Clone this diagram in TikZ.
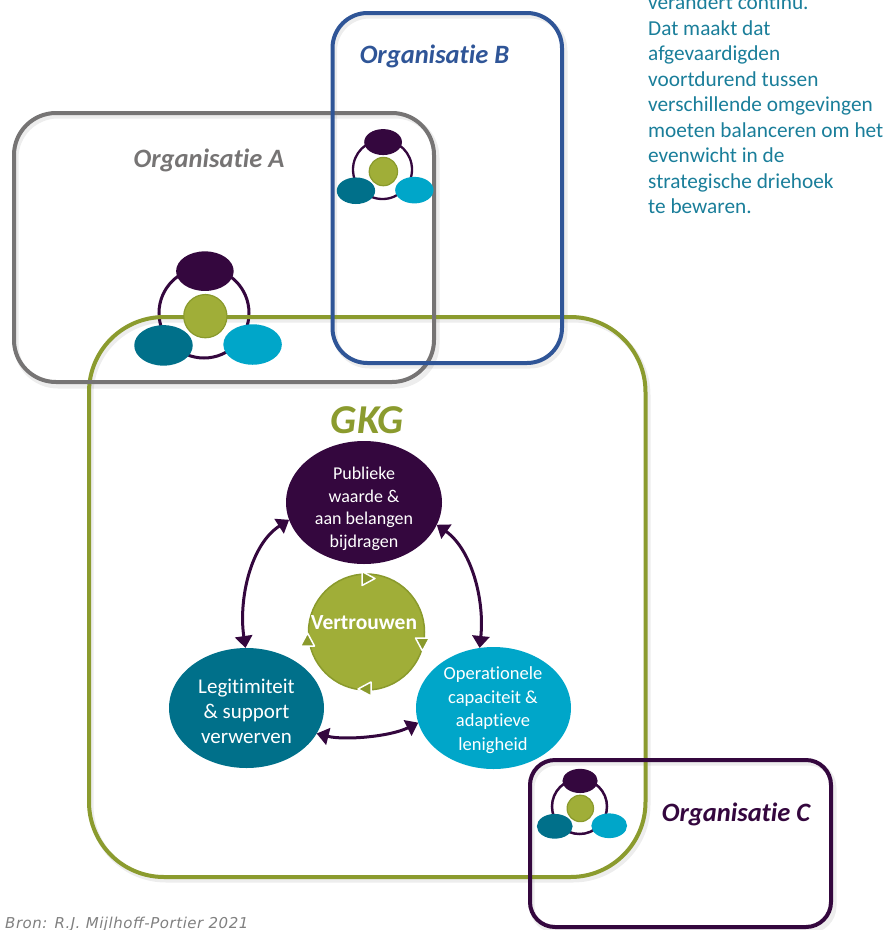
\documentclass[tikz,border=0pt]{standalone}
\usepackage{fontspec}
\setmainfont{Carlito}[Ligatures={NoCommon}]
\newfontfamily\bronfont{DejaVu Sans}[LetterSpace=3.5]
\usetikzlibrary{arrows.meta,shapes.geometric,calc}

\definecolor{purp}{HTML}{34073E}
\definecolor{tealc}{HTML}{00708A}
\definecolor{cyanc}{HTML}{00A6C9}
\definecolor{olive}{HTML}{A0AE38}
\definecolor{oliveedge}{HTML}{8A9A2C}
\definecolor{gkggreen}{HTML}{8B9B2E}
\definecolor{orggray}{HTML}{767474}
\definecolor{orgblue}{HTML}{2F5597}
\definecolor{notecol}{HTML}{1A7E9A}
\definecolor{broncol}{HTML}{808080}

\tikzset{
  box/.style={draw, rectangle, line width=4pt, inner sep=0pt, outer sep=0pt},
  shadowln/.style={draw=black, line width=5pt, opacity=0.07},
  ring/.style={draw=purp},
  blob/.style={ellipse, inner sep=0pt, outer sep=0pt},
  link/.style={draw=purp, line width=3pt,
    arrows={Triangle[length=12pt,width=17pt]-Triangle[length=12pt,width=17pt]}},
  cyclehead/.style={fill=oliveedge, draw=white, line width=1.5pt, line join=round},
  orglabel/.style={font=\fontsize{26.5}{30}\selectfont\bfseries\itshape, anchor=base, inner sep=0pt},
  note/.style={font=\fontsize{21.3}{25}\selectfont, text=notecol, anchor=base west, inner sep=0pt},
  intxt/.style={text=white, anchor=base, inner sep=0pt},
  pics/triadfill/.style={code={
    \fill[purp] (0.02,-0.93) ellipse[x radius=0.64, y radius=0.44];
    \filldraw[fill=olive, draw=oliveedge, line width=1.2pt] (0.03,0.07) circle[radius=0.48];
    \fill[tealc] (-0.9,0.72) ellipse[x radius=0.65, y radius=0.45];
    \fill[cyanc] (1.08,0.7) ellipse[x radius=0.65, y radius=0.45];
  }}
}

\begin{document}
\begin{tikzpicture}[x=1pt,y=-1pt]
\useasboundingbox (0,0) rectangle (889,930);

% soft shadows under the organisation frames
\draw[shadowln, rounded corners=42pt] (16,116) rectangle (437,386);
\draw[shadowln, rounded corners=35pt] (334.5,16) rectangle (565,366);
\draw[shadowln, rounded corners=75pt] (91,320) rectangle (648,880);
\draw[shadowln, rounded corners=25pt] (532,763) rectangle (834,931);

% rings of the small triads (lie beneath the frames)
\draw[ring, line width=3pt] (204,313) circle[radius=45];
\draw[ring, line width=2.3pt] (382.5,169.5) circle[radius=29.5];
\draw[ring, line width=2.5pt] (579.5,806.5) circle[radius=27.5];

% frames
\node[box, draw=gkggreen, rounded corners=75pt, minimum width=556.5pt, minimum height=560pt] (gkg) at (367.25,597) {};
\node[box, draw=orggray, rounded corners=42pt, minimum width=420pt, minimum height=269pt] (orgA) at (224,247.5) {};
\node[box, draw=orgblue, rounded corners=35pt, minimum width=229.5pt, minimum height=350pt] (orgB) at (447.25,188) {};
\node[box, draw=purp, rounded corners=25pt, minimum width=301pt, minimum height=167pt] (orgC) at (680.5,843.5) {};

% small triads
\pic[scale=45] at (204,313) {triadfill};
\pic[scale=29.5] at (382.5,169.5) {triadfill};
\pic[scale=27.5] at (579.5,806.5) {triadfill};

% frame labels
\node[orglabel, text=orggray] (labA) at (209,167) {Organisatie A};
\node[orglabel, text=orgblue] (labB) at (434.5,63) {Organisatie B};
\node[orglabel, text=purp] (labC) at (736,821) {Organisatie C};
\node[orglabel, text=gkggreen, font=\fontsize{41}{48}\selectfont\bfseries\itshape] (labG) at (367.5,433) {GKG};

% strategic triangle
\node[blob, fill=purp, minimum width=156pt, minimum height=123pt] (pub) at (364,502.5) {};
\node[blob, fill=tealc, minimum width=155pt, minimum height=120pt] (leg) at (246.5,708) {};
\node[blob, fill=cyanc, minimum width=155pt, minimum height=122pt] (ops) at (493.5,708) {};
\node[circle, fill=olive, draw=oliveedge, line width=1.5pt, inner sep=0pt, minimum size=116pt] (trust) at (366.5,632) {};

\foreach \t [count=\k from 0] in {Publieke, waarde \&, aan belangen, bijdragen}
  \node[intxt, font=\fontsize{18}{22}\selectfont] (pubt\k) at (364,{479.5+22.7*\k}) {\t};
\foreach \t [count=\k from 0] in {Legitimiteit, \& support, verwerven}
  \node[intxt, font=\fontsize{21}{25}\selectfont] (legt\k) at (246.5,{693.3+25*\k}) {\t};
\foreach \t [count=\k from 0] in {Operationele, capaciteit \&, adaptieve, lenigheid}
  \node[intxt, font=\fontsize{18.5}{23}\selectfont] (opst\k) at (493,{679.3+23.7*\k}) {\t};
\node[intxt, font=\fontsize{21.5}{25}\selectfont\bfseries] (trustt) at (364,629) {Vertrouwen};

% cycle arrowheads around the trust circle
\filldraw[cyclehead] (375,578.5) -- (362,571.5) -- (362,585.5) -- cycle;
\filldraw[cyclehead] (422.5,651) -- (415.5,638) -- (429.5,638) -- cycle;
\filldraw[cyclehead] (358,689) -- (371,682) -- (371,696) -- cycle;
\filldraw[cyclehead] (307.5,633) -- (300.5,646) -- (314.5,646) -- cycle;

% mutual relations
\draw[link] (leg.91) .. controls +(-7,-48) and +(-39,25) .. (pub.193);
\draw[link] (pub.343) .. controls +(35,25) and +(5,-48) .. (ops.103);
\draw[link] (leg.340) .. controls +(28,7) and +(-28,14) .. (ops.191);

% explanatory note
\foreach \t [count=\k from 0] in {verandert continu., Dat maakt dat, afgevaardigden, voortdurend tussen, verschillende omgevingen, moeten balanceren om het, evenwicht in de, strategische driehoek, te bewaren.}
  \node[note] (note\k) at (648,{9.5+25.5*\k}) {\t};

% source
\node[anchor=base west, inner sep=0pt, text=broncol, font=\bronfont\itshape\fontsize{15}{17}\selectfont] (bron) at (5,928) {Bron: R.J. Mijlhoff-Portier 2021};
\end{tikzpicture}
\end{document}
